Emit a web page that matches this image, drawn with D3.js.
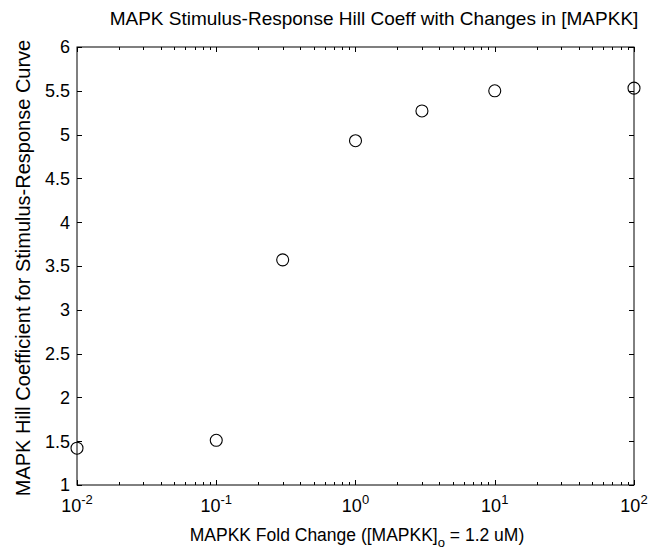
<!DOCTYPE html>
<html>
<head>
<meta charset="utf-8">
<script src="https://cdn.jsdelivr.net/npm/d3@7"></script>
<style>
  body { margin: 0; background: #fff; }
  text { font-family: "Liberation Sans", Arial, sans-serif; fill: #000; }
</style>
</head>
<body>
<svg width="659" height="551"></svg>
<script>
// data
var foldChange = [0.01, 0.1, 0.3, 1, 3, 10, 100];
var hillCoeff = [1.42, 1.51, 3.57, 4.93, 5.27, 5.50, 5.53];
var xMajorTicks = [0.01, 0.1, 1, 10, 100];
var yTicks = [1, 1.5, 2, 2.5, 3, 3.5, 4, 4.5, 5, 5.5, 6];

var svg = d3.select('svg');
var padding = {t: 47, r: 25, b: 66, l: 77};
var chartWidth = 659 - padding.l - padding.r;
var chartHeight = 551 - padding.t - padding.b;

var chartG = svg.append('g')
    .attr('transform', 'translate(' + [padding.l, padding.t] + ')');

var xScale = d3.scaleLog().domain([0.01, 100]).range([0, chartWidth]);
var yScale = d3.scaleLinear().domain([1, 6]).range([chartHeight, 0]);

// minor ticks on the log axis
var xMinor = [];
xMajorTicks.slice(0, -1).forEach(function(d) {
    for (var k = 2; k <= 9; k++) xMinor.push(d * k);
});

// frame
chartG.append('rect')
    .attr('width', chartWidth).attr('height', chartHeight)
    .attr('fill', 'none').attr('stroke', '#000').attr('stroke-width', 1);

var tickG = chartG.append('g').attr('stroke', '#000').attr('stroke-width', 1);

function xTick(d, len) {
    var x = Math.round(xScale(d)) + 0.5;
    tickG.append('line').attr('x1', x).attr('x2', x).attr('y1', chartHeight).attr('y2', chartHeight - len);
    tickG.append('line').attr('x1', x).attr('x2', x).attr('y1', 0).attr('y2', len);
}
xMajorTicks.forEach(function(d) { xTick(d, 5); });
xMinor.forEach(function(d) { xTick(d, 3); });

yTicks.forEach(function(d) {
    var y = Math.round(yScale(d)) + 0.5;
    tickG.append('line').attr('x1', 0).attr('x2', 5).attr('y1', y).attr('y2', y);
    tickG.append('line').attr('x1', chartWidth).attr('x2', chartWidth - 5).attr('y1', y).attr('y2', y);
});

// y tick labels
chartG.selectAll('.ylab')
    .data(yTicks).enter()
    .append('text')
    .attr('class', 'ylab')
    .attr('x', -7)
    .attr('y', function(d) { return yScale(d); })
    .attr('dy', '0.35em')
    .attr('text-anchor', 'end')
    .style('font-size', '18px')
    .text(function(d) { return d; });

// x tick labels as 10^n
var xl = chartG.selectAll('.xlab')
    .data(xMajorTicks).enter()
    .append('text')
    .attr('class', 'xlab')
    .attr('x', function(d) { return xScale(d); })
    .attr('y', chartHeight + 27)
    .attr('text-anchor', 'middle')
    .style('font-size', '18px');
xl.append('tspan').text('10');
xl.append('tspan')
    .attr('dy', -8)
    .style('font-size', '13px')
    .text(function(d) { return Math.round(Math.log10(d)); });

// points
chartG.selectAll('.dot')
    .data(foldChange).enter()
    .append('circle')
    .attr('class', 'dot')
    .attr('cx', function(d) { return xScale(d); })
    .attr('cy', function(d, i) { return yScale(hillCoeff[i]); })
    .attr('r', 6)
    .attr('fill', 'none')
    .attr('stroke', '#000')
    .attr('stroke-width', 1.1);

// title
svg.append('text')
    .attr('x', 374)
    .attr('y', 25)
    .attr('text-anchor', 'middle')
    .style('font-size', '19px')
    .text('MAPK Stimulus-Response Hill Coeff with Changes in [MAPKK]');

// x label with subscript
var xt = svg.append('text')
    .attr('x', 357)
    .attr('y', 541)
    .attr('text-anchor', 'middle')
    .style('font-size', '17.5px');
xt.append('tspan').text('MAPKK Fold Change ([MAPKK]');
xt.append('tspan').attr('dy', 6).style('font-size', '13px').text('o');
xt.append('tspan').attr('dy', -6).text(' = 1.2 uM)');

// y label
svg.append('text')
    .attr('transform', 'translate(30,268) rotate(-90)')
    .attr('text-anchor', 'middle')
    .style('font-size', '20px')
    .text('MAPK Hill Coefficient for Stimulus-Response Curve');
</script>
</body>
</html>
